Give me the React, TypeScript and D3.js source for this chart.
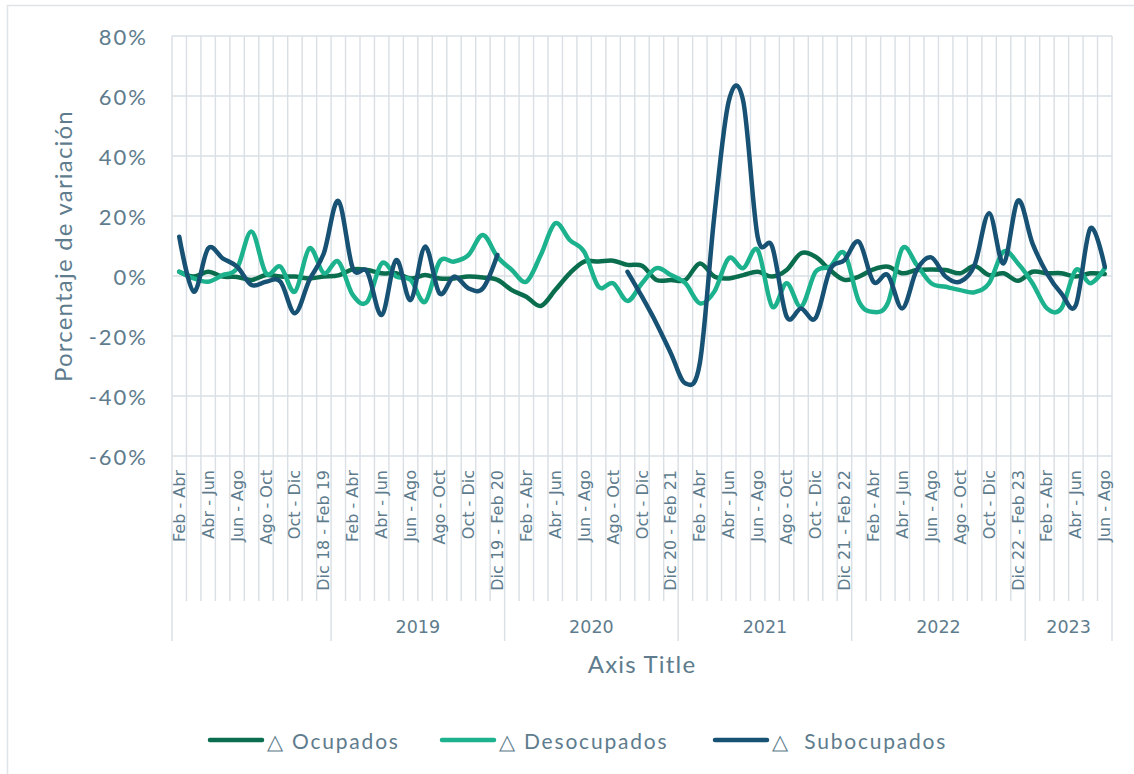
import React from 'react';
import * as d3 from 'd3';

// periodos trimestrales móviles
const categories = [
  'Feb - Abr', 'Mar - May', 'Abr - Jun', 'May - Jul', 'Jun - Ago', 'Jul - Sep', 'Ago - Oct', 'Sep - Nov', 'Oct - Dic', 'Nov - Ene',
  'Dic 18 - Feb 19', 'Ene - Mar', 'Feb - Abr', 'Mar - May', 'Abr - Jun', 'May - Jul', 'Jun - Ago', 'Jul - Sep', 'Ago - Oct', 'Sep - Nov', 'Oct - Dic', 'Nov - Ene',
  'Dic 19 - Feb 20', 'Ene - Mar', 'Feb - Abr', 'Mar - May', 'Abr - Jun', 'May - Jul', 'Jun - Ago', 'Jul - Sep', 'Ago - Oct', 'Sep - Nov', 'Oct - Dic', 'Nov - Ene',
  'Dic 20 - Feb 21', 'Ene - Mar', 'Feb - Abr', 'Mar - May', 'Abr - Jun', 'May - Jul', 'Jun - Ago', 'Jul - Sep', 'Ago - Oct', 'Sep - Nov', 'Oct - Dic', 'Nov - Ene',
  'Dic 21 - Feb 22', 'Ene - Mar', 'Feb - Abr', 'Mar - May', 'Abr - Jun', 'May - Jul', 'Jun - Ago', 'Jul - Sep', 'Ago - Oct', 'Sep - Nov', 'Oct - Dic', 'Nov - Ene',
  'Dic 22 - Feb 23', 'Ene - Mar', 'Feb - Abr', 'Mar - May', 'Abr - Jun', 'May - Jul', 'Jun - Ago',
];

const yearLabels = ['', '2019', '2020', '2021', '2022', '2023'];
const yearCounts = [11, 12, 12, 12, 12, 6];

const ocupados = [
  1.4, -0.2, 1.4, -0.2, -0.3, -1.3, 0.3, -0.2, -0.2, -0.8,
  -0.2, 0.2, 2.2, 2.0, 0.9, 0.9, -0.8, 0.3, -0.8, -0.8, -0.2, -0.5,
  -1.3, -4.7, -6.9, -10, -4.7, 0.9, 4.8, 4.8, 5.1, 3.7, 3.4, -1.3,
  -1.3, -1.3, 4.2, -0.2, -0.8, 0.3, 1.4, -0.2, 2, 7.6, 6.4, 2,
  -1.3, -0.2, 2.2, 3.1, 0.9, 2, 2.2, 2, 0.9, 3.3, 0.3, 0.9,
  -1.6, 1.4, 0.9, 0.9, -0.2, 0.9, 0.7,
];

const desocupados = [
  1.4, -0.8, -1.9, 0.3, 2.6, 14.8, 0.9, 3.1, -5.2, 9.2,
  0.9, 4.8, -6.3, -8.6, 4.2, -0.2, -1.3, -8.6, 4.8, 4.8, 7, 13.7,
  6.4, 2, -1.9, 7, 17.6, 12, 8.1, -3.6, -2.4, -8.3, -2.4, 2.6,
  0.3, -2.4, -9.1, -5.2, 5.9, 2.6, 8.7, -10.2, -2.4, -10.2, 1.4, 3.1,
  7.6, -8.5, -12, -9, 9.2, 3.7, -2.4, -3.6, -4.7, -5.4, -2.4, 8.1,
  4.2, -2.4, -10.8, -10.8, 2, -2.4, 2.6,
];

const subocupados = [
  13.1, -5.2, 9.2, 5.9, 3.1, -3, -1.9, -1.9, -12.4, -1.3,
  7.6, 25, 2.6, 1.4, -13, 5.3, -8, 9.8, -5.8, -0.2, -4.1, -4.1,
  7, null, null, null, null, null, null, null, null, 1.4, -6.9, -15.8,
  -25.8, -35.8, -29, 20, 58.3, 58.3, 13, 9.8, -13.5, -10.8, -14, 2,
  5.3, 11.4, -1.9, 0.3, -10.8, 2, 6.2, -0.2, -1.9, 3.7, 20.9, 4.2,
  25.1, 10.9, 0.9, -5.8, -9.7, 15.9, 3.1,
];

const yTicks = [-60, -40, -20, 0, 20, 40, 60, 80];

const series = [
  { name: '\u25B3 Ocupados', values: ocupados, color: '#0a6e4e' },
  { name: '\u25B3 Desocupados', values: desocupados, color: '#1cb28d' },
  { name: '\u25B3  Subocupados', values: subocupados, color: '#175173' },
];

const W = 1134;
const H = 774;
const left = 172;
const right = 1112;
const top = 36;
const bottom = 456;
const tickBottom = 601;
const groupBottom = 641;
const textColor = '#5e7c8d';
const gridColor = '#d9dfe4';
const sans = 'Lato, "Open Sans", sans-serif';
const catFont = '"DejaVu Sans", sans-serif';

export default function App() {
  const x = d3.scaleBand<number>()
    .domain(categories.map((_, i) => i))
    .range([left, right])
    .padding(0);
  const y = d3.scaleLinear().domain([-60, 80]).range([bottom, top]);
  const step = x.step();

  const line = d3.line<number | null>()
    .defined(d => d != null)
    .x((_, i) => x(i)! + step / 2)
    .y(d => y(d as number))
    .curve(d3.curveCardinal.tension(0));

  // limites de grupos (años)
  let acc = 0;
  const groups = yearCounts.map((n, k) => {
    const g = { label: yearLabels[k], start: acc, end: acc + n };
    acc += n;
    return g;
  });
  const groupEdges = new Set(groups.map(g => g.start).concat([categories.length]));

  const legendX = [208, 440, 713];

  return (
    <svg width={W} height={H} style={{ position: 'absolute', left: 0, top: 0, background: '#fff' }}>
      <rect x={7.5} y={5.5} width={W + 10} height={H + 10} fill="#fff" stroke="#dfe4e8" strokeWidth={1.5} />

      {/* horizontal grid */}
      {yTicks.map(t => (
        <line key={'h' + t} x1={left} x2={right} y1={y(t)} y2={y(t)} stroke={gridColor} strokeWidth={1.4} />
      ))}

      {/* vertical grid + tick marks */}
      {d3.range(categories.length + 1).map(i => {
        const xx = left + i * step;
        return (
          <line key={'v' + i} x1={xx} x2={xx} y1={top} y2={groupEdges.has(i) ? groupBottom : tickBottom}
            stroke={gridColor} strokeWidth={1.4} />
        );
      })}

      {/* y ticks */}
      {yTicks.map(t => (
        <text key={'t' + t} x={148} y={y(t)} textAnchor="end" dominantBaseline="central"
          fontFamily={sans} fontSize={22} letterSpacing={2} fill={textColor}>{t + '%'}</text>
      ))}

      {/* category labels, every other */}
      {categories.map((c, i) => i % 2 === 0 ? (
        <text key={'c' + i} transform={`translate(${x(i)! + step / 2},470) rotate(-90)`} textAnchor="end"
          dominantBaseline="central" fontFamily={catFont} fontSize={16} fill={textColor}>{c}</text>
      ) : null)}

      {/* year labels */}
      {groups.map(g => g.label ? (
        <text key={'y' + g.label} x={left + (g.start + g.end) / 2 * step} y={627} textAnchor="middle"
          dominantBaseline="central" fontFamily={catFont} fontSize={17.5} fill={textColor}>{g.label}</text>
      ) : null)}

      {/* axis titles */}
      <text transform="translate(62,246) rotate(-90)" textAnchor="middle" dominantBaseline="central"
        fontFamily={sans} fontSize={24} letterSpacing={1.2} fill={textColor}>Porcentaje de variación</text>
      <text x={642} y={663} textAnchor="middle" dominantBaseline="central"
        fontFamily={sans} fontSize={24} letterSpacing={1.2} fill={textColor}>Axis Title</text>

      {/* series */}
      {series.map(s => (
        <path key={s.name} d={line(s.values) || ''} fill="none" stroke={s.color} strokeWidth={4.5}
          strokeLinejoin="round" strokeLinecap="round" />
      ))}

      {/* legend */}
      {series.map((s, k) => (
        <g key={'l' + k} transform={`translate(${legendX[k]},740)`}>
          <line x1={2} x2={54} y1={0} y2={0} stroke={s.color} strokeWidth={4.5} strokeLinecap="round" />
          <text x={59} y={0} dominantBaseline="central" fontFamily={sans} fontSize={21} letterSpacing={1.8}
            fill={textColor} style={{ whiteSpace: 'pre' }}>{s.name}</text>
        </g>
      ))}
    </svg>
  );
}
